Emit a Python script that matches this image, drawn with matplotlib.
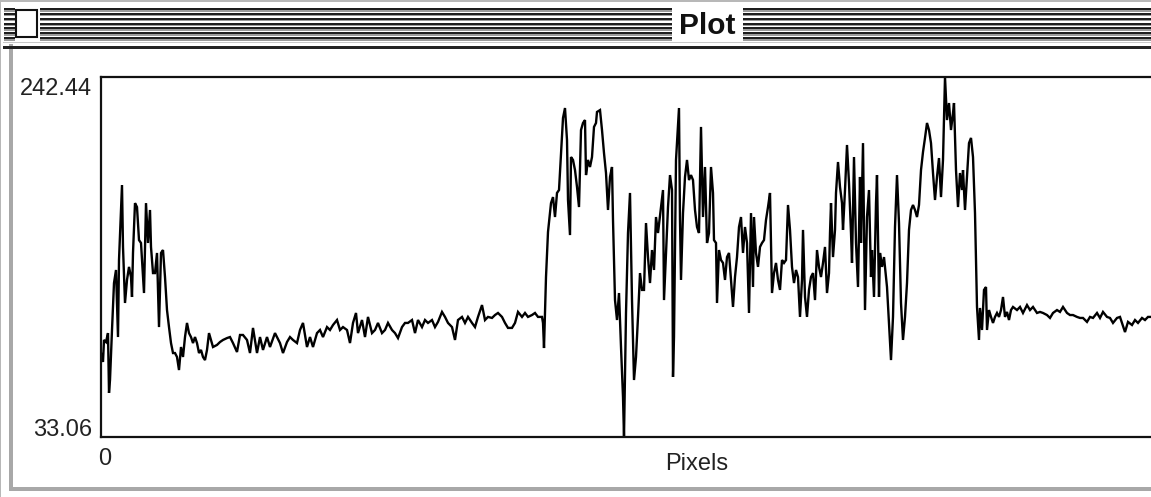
import matplotlib
matplotlib.use("Agg")
import matplotlib.pyplot as plt
from matplotlib.patches import Rectangle

# ---- data: profile position (pixels) and intensity values ----
pixels = [0, 2, 3, 5, 7, 8, 9, 11, 13, 15, 16, 17, 18, 21, 22, 24, 26, 28, 30, 31,
          32, 34, 36, 38, 40, 42, 43, 45, 47, 49, 50, 52, 54, 56, 58, 60, 62, 64, 66, 68,
          70, 72, 74, 76, 78, 80, 82, 84, 86, 88, 90, 92, 94, 96, 98, 100, 102, 104, 106, 108,
          110, 112, 116, 119, 122, 126, 129, 132, 136, 139, 142, 146, 149, 152, 156, 159, 162, 166, 169, 174,
          179, 182, 186, 189, 192, 196, 199, 202, 206, 209, 212, 216, 219, 222, 226, 229, 232, 236, 239, 242,
          246, 249, 252, 255, 257, 261, 264, 267, 271, 274, 277, 281, 284, 287, 291, 294, 297, 301, 304, 307,
          311, 314, 317, 321, 324, 327, 331, 334, 337, 341, 344, 347, 351, 354, 357, 361, 364, 367, 371, 374,
          377, 381, 384, 387, 391, 394, 397, 401, 404, 407, 411, 414, 417, 421, 424, 427, 431, 434, 437, 441,
          442, 443, 445, 447, 450, 452, 454, 456, 458, 460, 462, 464, 466, 467, 469, 470, 472, 474, 476, 478,
          480, 482, 484, 485, 487, 489, 491, 493, 495, 496, 499, 501, 503, 505, 507, 509, 511, 512, 514, 516,
          518, 520, 522, 523, 525, 527, 529, 531, 533, 535, 537, 539, 541, 543, 545, 547, 549, 551, 553, 555,
          557, 560, 562, 563, 565, 567, 569, 571, 572, 573, 575, 578, 579, 580, 582, 584, 586, 588, 590, 592,
          594, 596, 598, 600, 602, 604, 606, 608, 610, 612, 613, 615, 616, 618, 620, 622, 624, 626, 628, 630,
          632, 634, 636, 638, 640, 642, 644, 646, 648, 650, 652, 653, 655, 657, 659, 661, 663, 665, 667, 669,
          671, 673, 675, 677, 679, 681, 683, 685, 687, 689, 691, 693, 695, 697, 699, 701, 702, 704, 706, 708,
          710, 712, 714, 716, 718, 720, 722, 724, 726, 728, 729, 730, 732, 734, 735, 737, 739, 741, 742, 744,
          746, 748, 750, 751, 753, 755, 757, 759, 760, 762, 764, 766, 768, 770, 771, 773, 775, 776, 778, 779,
          781, 783, 785, 786, 788, 790, 792, 794, 796, 798, 800, 802, 804, 806, 808, 810, 812, 814, 816, 818,
          820, 822, 824, 826, 828, 830, 832, 834, 836, 838, 840, 842, 844, 846, 848, 850, 852, 853, 855, 857,
          859, 861, 862, 864, 866, 868, 870, 872, 874, 876, 878, 879, 881, 883, 885, 886, 888, 890, 892, 894,
          896, 898, 900, 902, 904, 906, 908, 910, 912, 916, 919, 922, 926, 929, 932, 936, 939, 942, 946, 949,
          952, 956, 959, 962, 966, 969, 972, 976, 979, 982, 986, 989, 992, 996, 999, 1002, 1006, 1009, 1012, 1016,
          1019, 1024, 1027, 1031, 1034, 1037, 1041, 1044, 1047, 1051]

values = [81.9, 76.7, 89.5, 88.3, 93.5, 58.7, 66.2, 95.3, 122.6, 130.2, 111.0, 91.2, 136.0, 179.6, 143.6, 111.0, 124.4, 132.0, 126.1, 114.5,
          140.1, 169.1, 166.8, 147.6, 145.9, 126.1, 116.8, 169.1, 145.9, 165.1, 143.6, 128.4, 128.4, 140.1, 97.0, 140.1, 141.8, 126.1, 106.9, 97.0,
          87.7, 81.9, 81.9, 79.6, 72.0, 85.4, 79.6, 91.2, 99.4, 93.5, 91.2, 87.7, 91.2, 87.7, 81.9, 83.7, 79.6, 77.8, 83.7, 93.5,
          89.5, 85.4, 86.6, 88.3, 89.5, 90.6, 91.2, 87.7, 82.5, 92.4, 92.4, 89.5, 81.9, 96.5, 81.9, 91.2, 83.7, 91.2, 85.4, 93.5,
          87.7, 81.9, 88.3, 91.2, 89.5, 87.7, 95.3, 99.4, 85.4, 91.2, 85.4, 93.5, 95.3, 91.2, 97.0, 95.3, 98.2, 101.1, 95.3, 97.0,
          95.3, 87.7, 99.4, 105.2, 93.5, 101.1, 91.2, 102.9, 93.5, 95.3, 99.4, 93.5, 95.3, 99.4, 95.3, 93.5, 90.6, 97.0, 99.4, 99.4,
          101.1, 93.5, 101.1, 97.0, 101.1, 99.4, 101.1, 97.0, 100.0, 105.8, 102.9, 99.4, 97.0, 89.5, 101.1, 102.9, 99.4, 102.9, 99.4, 97.0,
          102.9, 109.8, 101.1, 102.9, 102.3, 104.0, 105.2, 102.9, 99.4, 96.5, 96.5, 99.4, 105.8, 102.9, 105.2, 102.9, 104.0, 105.2, 102.9, 102.9,
          99.4, 84.8, 126.1, 152.3, 169.1, 172.6, 161.0, 175.0, 176.7, 197.1, 218.6, 224.4, 205.8, 170.9, 150.5, 195.9, 194.2, 188.3, 178.5, 166.8,
          211.6, 215.7, 217.4, 185.4, 194.2, 190.1, 195.9, 213.4, 215.7, 222.1, 223.2, 211.6, 198.2, 186.6, 165.1, 184.3, 190.1, 159.3, 112.7, 101.1,
          116.8, 85.4, 56.3, 33.1, 105.2, 151.7, 175.0, 112.7, 66.2, 79.6, 102.9, 128.4, 118.6, 118.6, 157.5, 137.7, 122.6, 141.8, 130.2, 161.0,
          151.7, 166.8, 176.7, 112.7, 140.1, 166.8, 185.4, 176.7, 68.0, 91.2, 194.2, 224.4, 159.3, 124.4, 163.3, 184.3, 194.2, 182.5, 185.4, 182.5,
          165.1, 155.2, 151.7, 213.4, 161.0, 190.1, 145.9, 151.7, 190.1, 175.0, 147.6, 145.9, 111.0, 141.8, 136.0, 134.3, 124.4, 137.7, 140.1, 124.4,
          108.7, 126.1, 137.7, 155.2, 161.0, 140.1, 155.2, 145.9, 105.2, 163.3, 120.3, 161.0, 140.1, 132.0, 143.6, 145.9, 147.6, 159.3, 166.8, 175.0,
          116.8, 128.4, 134.3, 124.4, 118.6, 136.0, 134.3, 136.0, 168.0, 153.5, 132.0, 122.6, 130.2, 126.1, 102.9, 124.4, 153.5, 114.5, 102.9, 118.6,
          126.1, 128.4, 112.7, 141.8, 132.0, 126.1, 134.3, 143.6, 116.8, 128.4, 151.7, 169.1, 137.7, 153.5, 175.0, 193.0, 178.5, 169.1, 153.5, 176.7,
          202.9, 180.8, 151.7, 134.3, 195.9, 145.9, 120.3, 184.3, 145.9, 204.0, 106.9, 161.0, 176.7, 126.1, 141.8, 114.5, 169.1, 185.4, 114.5, 140.1,
          132.0, 137.7, 126.1, 120.3, 99.4, 77.8, 102.9, 155.2, 185.4, 157.5, 111.0, 89.5, 102.9, 122.6, 153.5, 165.1, 168.0, 165.1, 161.0, 168.0,
          188.3, 198.8, 207.0, 215.7, 211.6, 204.0, 186.6, 170.9, 184.3, 195.3, 172.6, 194.2, 242.4, 217.4, 227.3, 211.6, 221.5, 227.3, 188.3, 166.8,
          186.6, 176.7, 188.3, 165.1, 184.3, 204.0, 207.0, 195.9, 163.3, 108.7, 89.5, 108.1, 95.3, 118.6, 120.3, 95.3, 106.9, 102.9, 99.4, 102.9,
          105.2, 102.9, 106.9, 114.5, 102.9, 105.8, 101.1, 106.9, 108.7, 106.9, 108.7, 105.2, 109.8, 106.9, 108.7, 105.2, 105.8, 105.2, 104.0, 102.3,
          105.2, 106.9, 105.8, 108.7, 105.2, 104.0, 104.0, 102.9, 102.3, 102.3, 100.0, 102.9, 102.3, 105.2, 102.3, 105.8, 102.9, 102.3, 99.4, 102.3,
          102.9, 94.1, 100.0, 98.2, 101.1, 99.4, 102.3, 101.1, 102.9, 102.9]

y_min, y_max = 33.06, 242.44
y_labels = ["242.44", "33.06"]
x_label_zero = "0"
x_title = "Pixels"
window_title = "Plot"

W, H = 1151, 497
fig = plt.figure(figsize=(W / 100, H / 100), dpi=100)
fig.patch.set_facecolor("white")

# ---- window chrome drawn in pixel coordinates ----
bg = fig.add_axes([0, 0, 1, 1])
bg.set_xlim(0, W)
bg.set_ylim(H, 0)
bg.axis("off")

def rect(x, y, w, h, fc, ec="none", lw=0, z=1):
    bg.add_patch(Rectangle((x, y), w, h, facecolor=fc, edgecolor=ec, linewidth=lw, zorder=z))

rect(0, 0, 1.5, H, "#b8b8b8")
rect(0, 0, W, 1.5, "#b8b8b8")
rect(9, 44, 4, 447, "#a8a8a8")
rect(9, 487, W - 9, 4, "#a8a8a8")
rect(3, 42, W - 3, 1.2, "#c8c8c8")
rect(3, 46, W - 3, 3, "#222222")

stripe_segments = [(4, 11), (40, 632), (743, W - 743)]
for i in range(7):
    yy = 8 + i * 4.85
    for x0, w in stripe_segments:
        rect(x0, yy, w, 2, "#1e1e1e")
        rect(x0, yy + 2, w, 1.5, "#9a9a9a")

rect(16.5, 10, 21, 27, "white", ec="#111111", lw=1.5, z=3)

bg.text(707, 26, window_title, ha="center", va="center", fontsize=21.5,
        fontweight="bold", family=["Liberation Sans", "DejaVu Sans"], color="#111111")

label_font = dict(fontsize=17, family=["Liberation Sans", "DejaVu Sans"], color="#222222")
bg.text(92, 89, y_labels[0], ha="right", va="center", **label_font)
bg.text(92, 430, y_labels[1], ha="right", va="center", **label_font)
bg.text(105, 459, x_label_zero, ha="center", va="center", **label_font)
bg.text(697, 464, x_title, ha="center", va="center", **label_font)

# ---- plot axes (right edge extends past the window) ----
ax_left, ax_top, ax_bottom, ax_right = 101, 77, 437, 1165
ax = fig.add_axes([ax_left / W, (H - ax_bottom) / H, (ax_right - ax_left) / W, (ax_bottom - ax_top) / H])
ax.set_facecolor("none")
ax.plot(pixels, values, color="black", linewidth=1.7, solid_joinstyle="miter")
ax.set_xlim(0, ax_right - ax_left)
ax.set_ylim(y_min, y_max)
ax.set_xticks([])
ax.set_yticks([])
for side in ["left", "top", "bottom", "right"]:
    ax.spines[side].set_linewidth(1.6)
    ax.spines[side].set_color("#111111")

fig.savefig("out.png", dpi=100)
